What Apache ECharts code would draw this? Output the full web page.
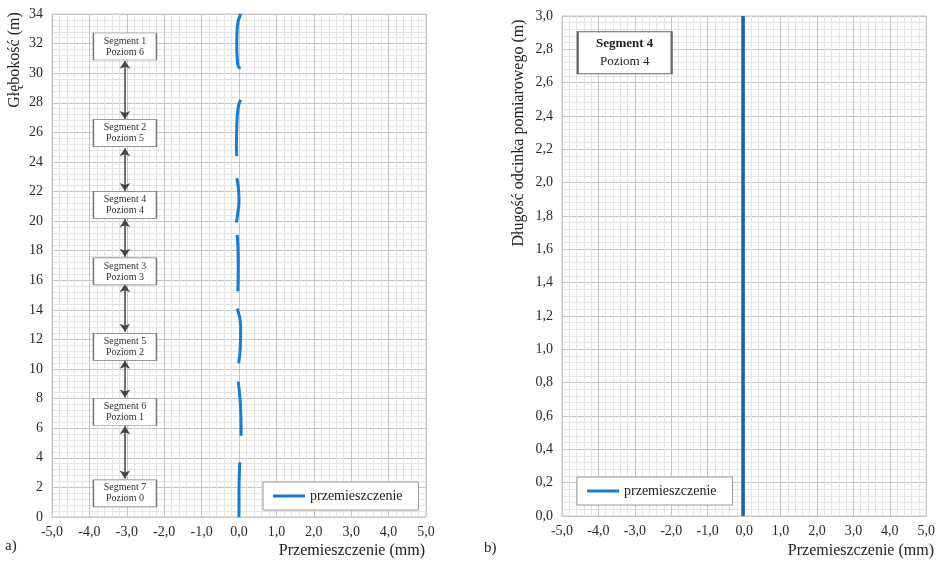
<!DOCTYPE html>
<html>
<head>
<meta charset="utf-8">
<script src="https://cdn.jsdelivr.net/npm/echarts@6/dist/echarts.min.js"></script>
<style>html,body{margin:0;padding:0;background:#fff}#c{width:938px;height:562px}</style>
</head>
<body>
<div id="c"></div>
<script>
// ---- data (a): displacement [mm] vs depth [m], measured per segment ----
const seg1 = [[0.045,34.0],[-0.045,33.15],[-0.06,32.0],[-0.045,30.9],[-0.02,30.45],[0.045,30.35]];
const seg2 = [[0.045,28.2],[-0.02,27.7],[-0.06,26.4],[-0.07,25.0],[-0.06,24.4]];
const seg3 = [[-0.06,22.9],[-0.02,22.3],[0.0,21.4],[-0.035,20.5],[-0.07,19.9]];
const seg4 = [[-0.05,19.07],[-0.03,18.3],[-0.02,17.0],[-0.03,15.25]];
const seg5 = [[-0.045,14.1],[0.045,12.87],[0.035,11.52],[-0.01,10.4]];
const seg6 = [[-0.02,9.15],[0.035,7.7],[0.055,6.1],[0.055,5.5]];
const seg7 = [[0.02,3.7],[0.0,1.6],[0.0,0.0]];

// segment boxes (a): labels and depth of box centre
const boxLabels = ['Segment 1\nPoziom 6','Segment 2\nPoziom 5','Segment 4\nPoziom 4','Segment 3\nPoziom 3','Segment 5\nPoziom 2','Segment 6\nPoziom 1','Segment 7\nPoziom 0'];
const boxDepths = [31.8, 25.95, 21.1, 16.6, 11.5, 7.1, 1.6];
const boxX = -3.05;
// double arrows between boxes (depth from/to)
const arrows = [[30.84,26.9],[24.92,22.03],[20.12,17.59],[15.74,12.52],[10.56,8.08],[6.14,2.61]];

// ---- data (b): Segment 4 measurement along the gauge length ----
const segB = [[-0.03,0.0],[-0.03,1.0],[-0.03,2.0],[-0.03,3.0]];

const xTicksMin = -5, xTicksMax = 5;
const serif = 'Liberation Serif';
const fmt1 = v => v.toFixed(1).replace('.', ',');
const blue = '#1a7ad0';
const major = '#c6c6c6', minor = '#e4e4e4';

const chart = echarts.init(document.getElementById('c'), null, {renderer:'canvas'});

function xAxisDef(gi){
  return {
    gridIndex: gi, type:'value', min:xTicksMin, max:xTicksMax, interval:1,
    axisLine:{show:false}, axisTick:{show:false},
    axisLabel:{formatter:fmt1, fontFamily:serif, fontSize:14, color:'#2a2a2a', margin:8},
    splitLine:{show:true, lineStyle:{color:major, width:1}},
    minorTick:{show:false, splitNumber:5},
    minorSplitLine:{show:true, lineStyle:{color:minor, width:1}}
  };
}

const lineSeg = (d, xi) => ({
  type:'line', name:'przemieszczenie', xAxisIndex:xi, yAxisIndex:xi,
  data:d, smooth:true, showSymbol:false, symbol:'none',
  lineStyle:{color:blue, width:3}, itemStyle:{color:blue}, z:5, silent:true
});

const legendDef = (l, t) => ({
  data:['przemieszczenie'], left:l, top:t, orient:'horizontal',
  icon:'rect', itemWidth:32, itemHeight:3, itemGap:6,
  borderColor:'#999', borderWidth:1, padding:[7,16,7,10], backgroundColor:'#fff',
  textStyle:{fontFamily:serif, fontSize:14, color:'#222'}, selectedMode:false
});

const option = {
  animation:false,
  backgroundColor:'#fff',
  grid:[
    {left:52, top:14, width:374, height:503, show:true, borderColor:major, borderWidth:1, backgroundColor:'transparent'},
    {left:562, top:16, width:367, height:500, show:true, borderColor:major, borderWidth:1, backgroundColor:'transparent'}
  ],
  xAxis:[xAxisDef(0), xAxisDef(1)],
  yAxis:[
    {gridIndex:0, type:'value', min:0, max:34, interval:2,
     axisLine:{show:false}, axisTick:{show:false},
     axisLabel:{fontFamily:serif, fontSize:14, color:'#2a2a2a', margin:9},
     splitLine:{show:true, lineStyle:{color:major}},
     minorTick:{show:false, splitNumber:5},
     minorSplitLine:{show:true, lineStyle:{color:minor}}},
    {gridIndex:1, type:'value', min:0, max:3, interval:0.2,
     axisLine:{show:false}, axisTick:{show:false},
     axisLabel:{formatter:fmt1, fontFamily:serif, fontSize:14, color:'#2a2a2a', margin:9},
     splitLine:{show:true, lineStyle:{color:major}},
     minorTick:{show:false, splitNumber:5},
     minorSplitLine:{show:true, lineStyle:{color:minor}}}
  ],
  legend:[legendDef(263, 482), legendDef(577, 477)],
  graphic:[
    {type:'text', x:15, y:60, rotation:Math.PI/2, style:{text:'Głębokość (m)', font:'16px "Liberation Serif"', fill:'#222', align:'center', verticalAlign:'middle'}},
    {type:'text', x:519, y:133, rotation:Math.PI/2, style:{text:'Długość odcinka pomiarowego (m)', font:'16px "Liberation Serif"', fill:'#222', align:'center', verticalAlign:'middle'}},
    {type:'text', x:425, y:551, style:{text:'Przemieszczenie (mm)', font:'16px "Liberation Serif"', fill:'#222', align:'right', verticalAlign:'middle'}},
    {type:'text', x:934, y:551, style:{text:'Przemieszczenie (mm)', font:'16px "Liberation Serif"', fill:'#222', align:'right', verticalAlign:'middle'}},
    {type:'text', x:5, y:546, style:{text:'a)', font:'15px "Liberation Serif"', fill:'#222', align:'left', verticalAlign:'middle'}},
    {type:'text', x:484, y:548, style:{text:'b)', font:'15px "Liberation Serif"', fill:'#222', align:'left', verticalAlign:'middle'}}
  ],
  series:[
    {type:'lines', coordinateSystem:'cartesian2d', xAxisIndex:0, yAxisIndex:0, silent:true,
     data: arrows.map(a => ({coords:[[boxX,a[0]],[boxX,a[1]]]})),
     symbol:['arrow','arrow'], symbolSize:8,
     lineStyle:{color:'#444', width:1.5, opacity:1}, z:3},
    {type:'scatter', name:'boxes', xAxisIndex:0, yAxisIndex:0, silent:true,
     data: boxDepths.map((d,i)=>({value:[boxX,d], label:{formatter:boxLabels[i]}})),
     symbol:'rect', symbolSize:[63,27],
     itemStyle:{color:'#fff', borderColor:'#777', borderWidth:1, opacity:1},
     label:{show:true, position:'inside', fontFamily:serif, fontSize:10, lineHeight:11, color:'#333'}, z:4},
    {type:'scatter', name:'box4', xAxisIndex:1, yAxisIndex:1, silent:true,
     data:[{value:[-3.28, 2.78]}],
     symbol:'rect', symbolSize:[94,42],
     itemStyle:{color:'#fff', borderColor:'#666', borderWidth:1.5, opacity:1},
     label:{show:true, position:'inside', formatter:'{b|Segment 4}\n{n|Poziom 4}',
       rich:{b:{fontFamily:serif, fontSize:13, fontWeight:'bold', color:'#222', lineHeight:18},
             n:{fontFamily:serif, fontSize:13, color:'#222', lineHeight:18}}}, z:4},
    lineSeg(seg1,0), lineSeg(seg2,0), lineSeg(seg3,0), lineSeg(seg4,0),
    lineSeg(seg5,0), lineSeg(seg6,0), lineSeg(seg7,0),
    {type:'line', name:'przemieszczenie', xAxisIndex:1, yAxisIndex:1, data:segB,
     showSymbol:false, symbol:'none', lineStyle:{color:'#1a5fa8', width:3.5}, itemStyle:{color:blue}, z:5, silent:true}
  ]
};
chart.setOption(option);
</script>
</body>
</html>
